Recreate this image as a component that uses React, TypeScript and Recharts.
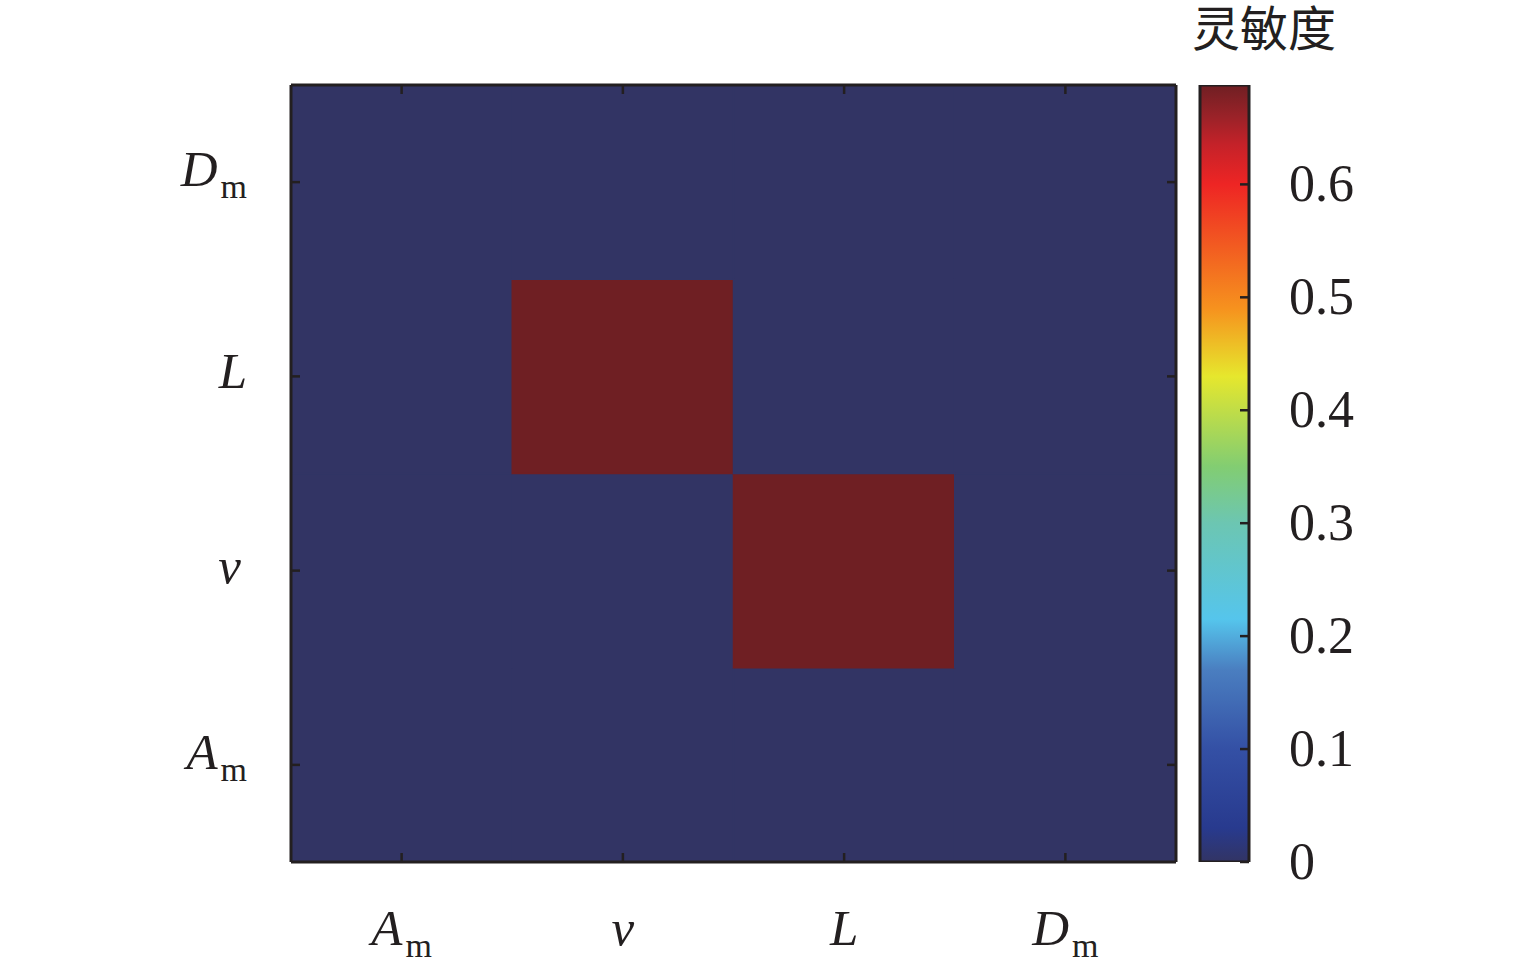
import React from 'react';
import { BarChart, Bar, XAxis, YAxis, Cell, Customized } from 'recharts';

// Parameter names (x: left→right, y: bottom→top)
const paramKeys = ['Am', 'v', 'L', 'Dm'];
const paramMain = ['A', 'v', 'L', 'D'];
const paramSub = ['m', '', '', 'm'];

// sensitivity[row y][col x]
const rowAm = [0, 0, 0, 0];
const rowV = [0, 0, 0.688, 0];
const rowL = [0, 0.688, 0, 0];
const rowDm = [0, 0, 0, 0];
const sensitivity = [rowAm, rowV, rowL, rowDm];

const colorMax = 0.688;
const colorTicks = [0, 0.1, 0.2, 0.3, 0.4, 0.5, 0.6];
const yTicks = [0.5, 1.5, 2.5, 3.5];
const title = '灵敏度';

const stopValues = [0, 0.03, 0.1, 0.17, 0.215, 0.3, 0.35, 0.43, 0.49, 0.6, 0.635, 0.66, 0.688];
const stopColors = ['#323464', '#283a8e', '#3450a5', '#4a7ec0', '#55c5ec', '#6cc6b2', '#82cd72', '#e6e72d', '#f6921e', '#ee2524', '#c52229', '#9a2228', '#6f1f23'];

const BORDER = '#231f20';
const SERIF = '"Liberation Serif", "Times New Roman", serif';

function hexToRgb(h: string) {
  const n = parseInt(h.slice(1), 16);
  return [(n >> 16) & 255, (n >> 8) & 255, n & 255];
}
function colormap(v: number) {
  if (v <= stopValues[0]) return stopColors[0];
  for (let i = 1; i < stopValues.length; i++) {
    if (v <= stopValues[i]) {
      const t = (v - stopValues[i - 1]) / (stopValues[i] - stopValues[i - 1]);
      const a = hexToRgb(stopColors[i - 1]);
      const b = hexToRgb(stopColors[i]);
      const c = a.map((x, k) => Math.round(x + (b[k] - x) * t));
      return `rgb(${c[0]},${c[1]},${c[2]})`;
    }
  }
  return stopColors[stopColors.length - 1];
}

const rowKeys = paramKeys.map((_, j) => `r${j}`);
const heatData = paramKeys.map((k) => {
  const d: any = { x: k };
  rowKeys.forEach((rk) => (d[rk] = 1));
  return d;
});
const colorbarData = [{ name: 'cb', v: colorMax }];

function ParamLabel({ x, y, idx, anchor }: any) {
  return (
    <text x={x} y={y} textAnchor={anchor} fontFamily={SERIF} fontSize={51} fill="#231f20">
      <tspan fontStyle="italic">{paramMain[idx]}</tspan>
      {paramSub[idx] ? (
        <tspan fontSize={34} dy={12} dx={3}>
          {paramSub[idx]}
        </tspan>
      ) : null}
    </text>
  );
}

function BottomTick(props: any) {
  const { x, y, payload } = props;
  const idx = paramKeys.indexOf(payload.value);
  return (
    <g>
      <line x1={x} y1={y} x2={x} y2={y - 9} stroke={BORDER} strokeWidth={2.5} />
      <ParamLabel x={x} y={y + 83} idx={idx} anchor="middle" />
    </g>
  );
}
function TopTick(props: any) {
  const { x, y } = props;
  return <line x1={x} y1={y} x2={x} y2={y + 9} stroke={BORDER} strokeWidth={2.5} />;
}
function LeftTick(props: any) {
  const { x, y, payload } = props;
  const idx = Math.floor(payload.value);
  const off = paramSub[idx] ? 4 : 12;
  const dxEnd = paramSub[idx] ? 44 : paramMain[idx] === 'v' ? 50 : 44;
  return (
    <g>
      <line x1={x} y1={y} x2={x + 9} y2={y} stroke={BORDER} strokeWidth={2.5} />
      <ParamLabel x={x - dxEnd} y={y + off} idx={idx} anchor="end" />
    </g>
  );
}
function RightTick(props: any) {
  const { x, y } = props;
  return <line x1={x} y1={y} x2={x - 9} y2={y} stroke={BORDER} strokeWidth={2.5} />;
}
function ColorTick(props: any) {
  const { x, y, payload } = props;
  return (
    <g>
      <line x1={x} y1={y} x2={x - 9} y2={y} stroke={BORDER} strokeWidth={2.5} />
      <text x={x + 40} y={y + 17} textAnchor="start" fontFamily={SERIF} fontSize={52} fill="#231f20">
        {payload.value === 0 ? '0' : payload.value.toFixed(1)}
      </text>
    </g>
  );
}

function TitleText() {
  return (
    <text x={164} y={46} textAnchor="middle" fontFamily='"Noto Sans CJK SC", sans-serif' fontSize={48} fill="#231f20">
      {title}
    </text>
  );
}

export default function App() {
  return (
    <div style={{ position: 'absolute', left: 0, top: 0, width: 1535, height: 975, background: '#fff' }}>
      <div style={{ position: 'absolute', left: 0, top: 0 }}>
        <BarChart
          width={1535}
          height={975}
          data={heatData}
          barCategoryGap={0}
          barGap={0}
          margin={{ top: 75, right: 349, bottom: 13, left: 171 }}
        >
          {rowKeys.map((rk, j) => (
            <Bar key={rk} dataKey={rk} stackId="s" isAnimationActive={false} xAxisId="b" yAxisId="l">
              {heatData.map((_, i) => (
                <Cell key={i} fill={colormap(sensitivity[j][i])} stroke={colormap(sensitivity[j][i])} strokeWidth={1.5} />
              ))}
            </Bar>
          ))}
          <XAxis
            xAxisId="b"
            dataKey="x"
            type="category"
            orientation="bottom"
            height={100}
            tickSize={0}
            tickMargin={0}
            tickLine={false}
            axisLine={{ stroke: BORDER, strokeWidth: 3 }}
            tick={<BottomTick />}
            interval={0}
          />
          <XAxis
            xAxisId="t"
            dataKey="x"
            type="category"
            orientation="top"
            height={10}
            tickSize={0}
            tickMargin={0}
            tickLine={false}
            axisLine={{ stroke: BORDER, strokeWidth: 3 }}
            tick={<TopTick />}
            interval={0}
          />
          <YAxis
            yAxisId="l"
            type="number"
            domain={[0, 4]}
            ticks={yTicks}
            width={120}
            tickSize={0}
            tickMargin={0}
            tickLine={false}
            axisLine={{ stroke: BORDER, strokeWidth: 3 }}
            tick={<LeftTick />}
            interval={0}
            allowDataOverflow
          />
          <YAxis
            yAxisId="r"
            orientation="right"
            type="number"
            domain={[0, 4]}
            ticks={yTicks}
            width={10}
            tickSize={0}
            tickMargin={0}
            tickLine={false}
            axisLine={{ stroke: BORDER, strokeWidth: 3 }}
            tick={<RightTick />}
            interval={0}
            allowDataOverflow
          />
        </BarChart>
      </div>
      <div style={{ position: 'absolute', left: 1100, top: 0 }}>
        <BarChart
          width={435}
          height={975}
          data={colorbarData}
          barCategoryGap={0}
          margin={{ top: 85, right: 176, bottom: 113, left: 100 }}
        >
          <defs>
            <linearGradient id="jet" x1="0" y1="1" x2="0" y2="0">
              {stopValues.map((v, i) => (
                <stop key={i} offset={v / colorMax} stopColor={stopColors[i]} />
              ))}
            </linearGradient>
          </defs>
          <XAxis dataKey="name" type="category" hide />
          <Bar dataKey="v" fill="url(#jet)" stroke={BORDER} strokeWidth={3} isAnimationActive={false} />
          <YAxis
            orientation="right"
            type="number"
            domain={[0, colorMax]}
            ticks={colorTicks}
            width={110}
            tickSize={0}
            tickMargin={0}
            tickLine={false}
            axisLine={false}
            tick={<ColorTick />}
            interval={0}
            allowDataOverflow
          />
          <Customized component={TitleText} />
        </BarChart>
      </div>
    </div>
  );
}
